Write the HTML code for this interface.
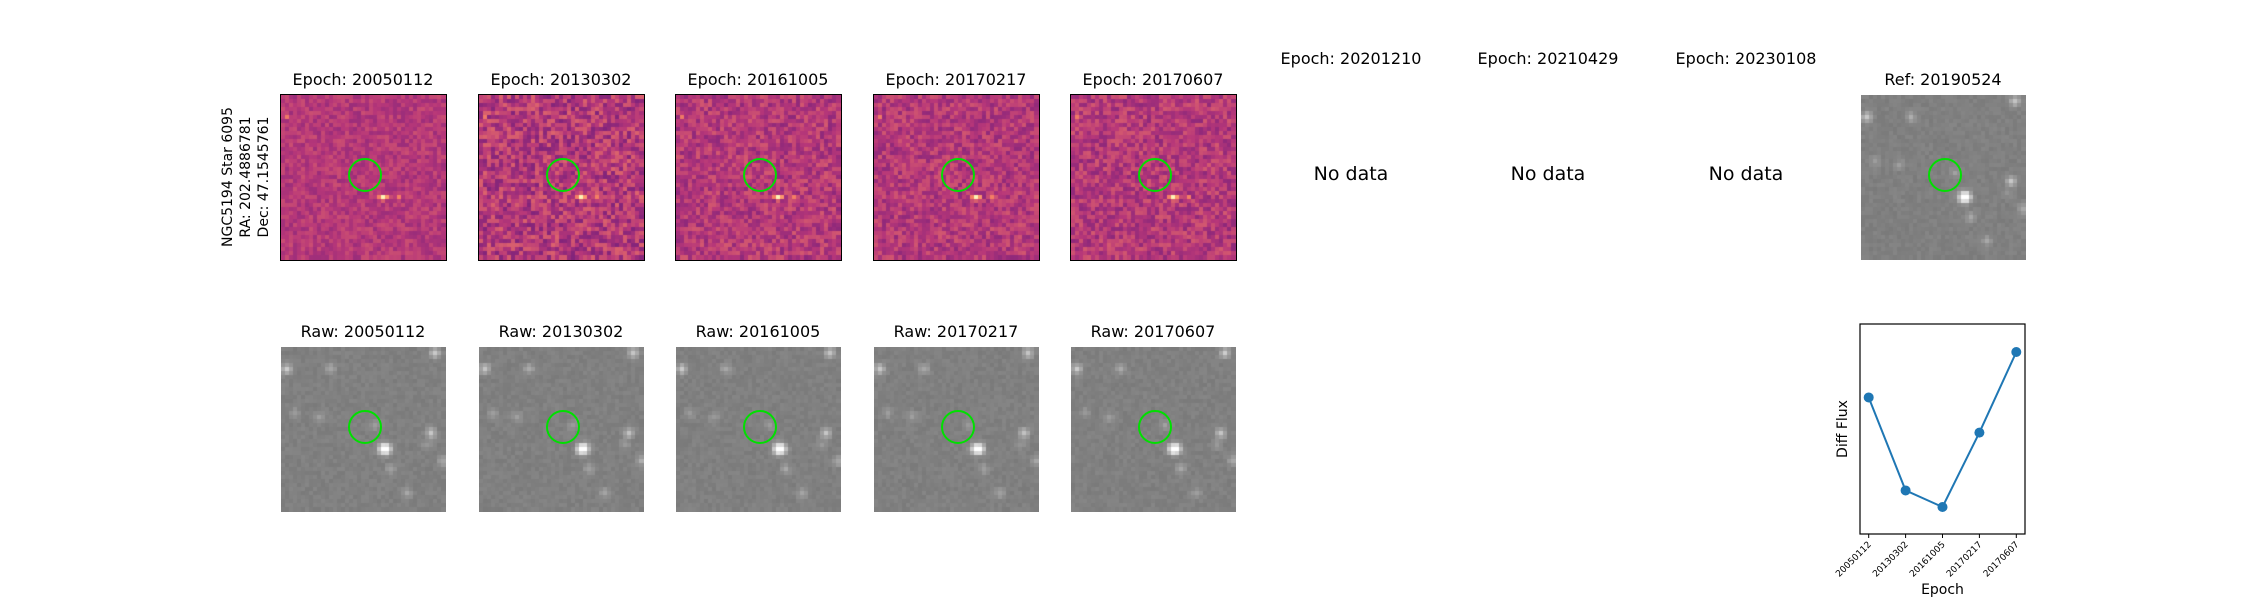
<!DOCTYPE html>
<html><head><meta charset="utf-8"><style>
body{margin:0;background:#fff;font-family:"DejaVu Sans","Liberation Sans",sans-serif;}
#root{position:relative;width:2250px;height:600px;overflow:hidden;background:#fff}
.t{position:absolute;font-size:16px;color:#000;white-space:nowrap;transform:translateX(-50%)}
canvas{position:absolute}
.circ{position:absolute;border:2px solid #00e000;border-radius:50%;box-sizing:border-box}
</style></head><body>
<div id="root">
<div style="position:absolute;left:246px;top:177px;transform:translate(-50%,-50%) rotate(-90deg);font-size:14px;line-height:18px;text-align:center;white-space:nowrap">NGC5194 Star 6095<br>RA: 202.4886781<br>Dec: 47.1545761</div>
<svg id="lc" width="2250" height="600" style="position:absolute;left:0;top:0"></svg>
</div>
<script>
const epochs=["20050112","20130302","20161005","20170217","20170607"];
const noDataEpochs=["20201210","20210429","20230108"];
const fluxValues=[0.70,0.25,0.17,0.53,0.92];
const refLabel="Ref: 20190524";

const root=document.getElementById('root');
let seed=12345;function rnd(){seed=(seed*1103515245+12345)%2147483648;return seed/2147483648;}
function magma(t){const s=[[0,[0,0,4]],[0.25,[81,18,124]],[0.5,[183,55,121]],[0.75,[252,137,97]],[1,[252,253,191]]];
t=Math.max(0,Math.min(1,t));for(let i=1;i<s.length;i++){if(t<=s[i][0]){const a=s[i-1],b=s[i];const f=(t-a[0])/(b[0]-a[0]);return a[1].map((v,k)=>Math.round(v+(b[1][k]-v)*f));}}return s[4][1];}
const N=41,S=165;
const stars=[[25,25,1],[26,25,0.8],[1,5,0.6],[38,1,0.6],[12,5,0.35],[37,21,0.55],[23,19,0.25],[31,36,0.3],[27,30,0.3],[40,28,0.35],[3,16,0.25],[9,17,0.25],[36,24,0.2]];
function img(x,y,kind,noise,name){
 const c=document.createElement('canvas');c.width=S;c.height=S;c.style.left=x+'px';c.style.top=y+'px';
 
 
 if(kind==='diff'){c.style.border='1.5px solid #000';c.style.left=(x-1)+'px';c.style.top=(y-1)+'px';}
 root.appendChild(c);const g=c.getContext('2d');const cs=S/N;
 for(let i=0;i<N;i++)for(let j=0;j<N;j++){
  let col;
  if(kind==='diff'){let v=0.5+(rnd()-0.5)*noise;
   if(i===25&&j===25)v=0.98;if(i===24&&j===25)v=0.72;if(i===26&&j===25)v=0.78;if(i===29&&j===25)v=0.72;if(i===25&&j===26)v=0.62;if(i===1&&j===5)v=0.7;
   col=magma(v);}
  else{let v=128+(rnd()-0.5)*12;
   for(const s of stars){const d=Math.hypot(i-s[0],j-s[1]);v+=s[2]*120*Math.exp(-d*d/1.6);}
   v=Math.min(255,v);col=[v,v,v].map(Math.round);}
  g.fillStyle='rgb('+col.join(',')+')';g.fillRect(Math.floor(i*cs),Math.floor(j*cs),Math.ceil(cs)+1,Math.ceil(cs)+1);
 }
 const ci=document.createElement('div');ci.className='circ';
 
 
 ci.style.left=(x+67)+'px';ci.style.top=(y+63)+'px';ci.style.width='34px';ci.style.height='34px';root.appendChild(ci);
}
function title(x,y,txt,name){const d=document.createElement('div');d.className='t';d.textContent=txt;d.style.left=x+'px';d.style.top=y+'px';
 
 
 root.appendChild(d);return d;}
const X0=281,DX=197.5;
const noises=[0.14,0.26,0.2,0.19,0.2];
epochs.forEach((e,i)=>{const x=Math.round(X0+DX*i);
 title(x+82,70,'Epoch: '+e,'diff-title');img(x,95,'diff',noises[i],'diff-image');
 title(x+82,322,'Raw: '+e,'raw-title');img(x,347,'raw',0,'raw-image');});
noDataEpochs.forEach((e,k)=>{const x=Math.round(X0+DX*(5+k));
 title(x+82,49,'Epoch: '+e,'empty-epoch-title');const d=title(x+82,163,'No data','no-data-label');d.style.fontSize='19px';});
const xr=Math.round(X0+DX*8);title(xr+82,70,refLabel,'ref-title');img(xr,95,'raw',0,'ref-image');

// light curve
const svg=document.getElementById('lc');const NS='http://www.w3.org/2000/svg';
const L=1860,R=2025,T=324,B=534;
const xs=i=>L+8.7+i*(R-L-17.4)/(epochs.length-1);
const ys=v=>B-27-(v-0.17)/(0.92-0.17)*(B-27-352);
function el(t,a,name){const e=document.createElementNS(NS,t);for(const k in a)e.setAttribute(k,a[k]);
 
 
 svg.appendChild(e);return e;}
el('rect',{x:L,y:T,width:R-L,height:B-T,fill:'none',stroke:'#000','stroke-width':1.2},'plot-frame');
el('polyline',{points:fluxValues.map((v,i)=>xs(i)+','+ys(v)).join(' '),fill:'none',stroke:'#1f77b4','stroke-width':2},'flux-line');
fluxValues.forEach((v,i)=>{el('circle',{cx:xs(i),cy:ys(v),r:5,fill:'#1f77b4'},'flux-point');
 el('line',{x1:xs(i),x2:xs(i),y1:B,y2:B+4,stroke:'#000'},'x-tick');
 const t=el('text',{x:xs(i)+3,y:B+11,'font-size':9,'text-anchor':'end',fill:'#000','font-family':'DejaVu Sans, sans-serif',transform:'rotate(-45 '+(xs(i)+3)+' '+(B+11)+')'},'x-tick-label');t.textContent=epochs[i];});
const xl=el('text',{x:(L+R)/2,y:594,'font-size':14,'text-anchor':'middle','font-family':'DejaVu Sans, sans-serif'},'x-axis-title');xl.textContent='Epoch';
const yl=el('text',{x:1847,y:429,'font-size':14,'text-anchor':'middle','font-family':'DejaVu Sans, sans-serif',transform:'rotate(-90 1847 429)'},'y-axis-title');yl.textContent='Diff Flux';
</script>
</body></html>
